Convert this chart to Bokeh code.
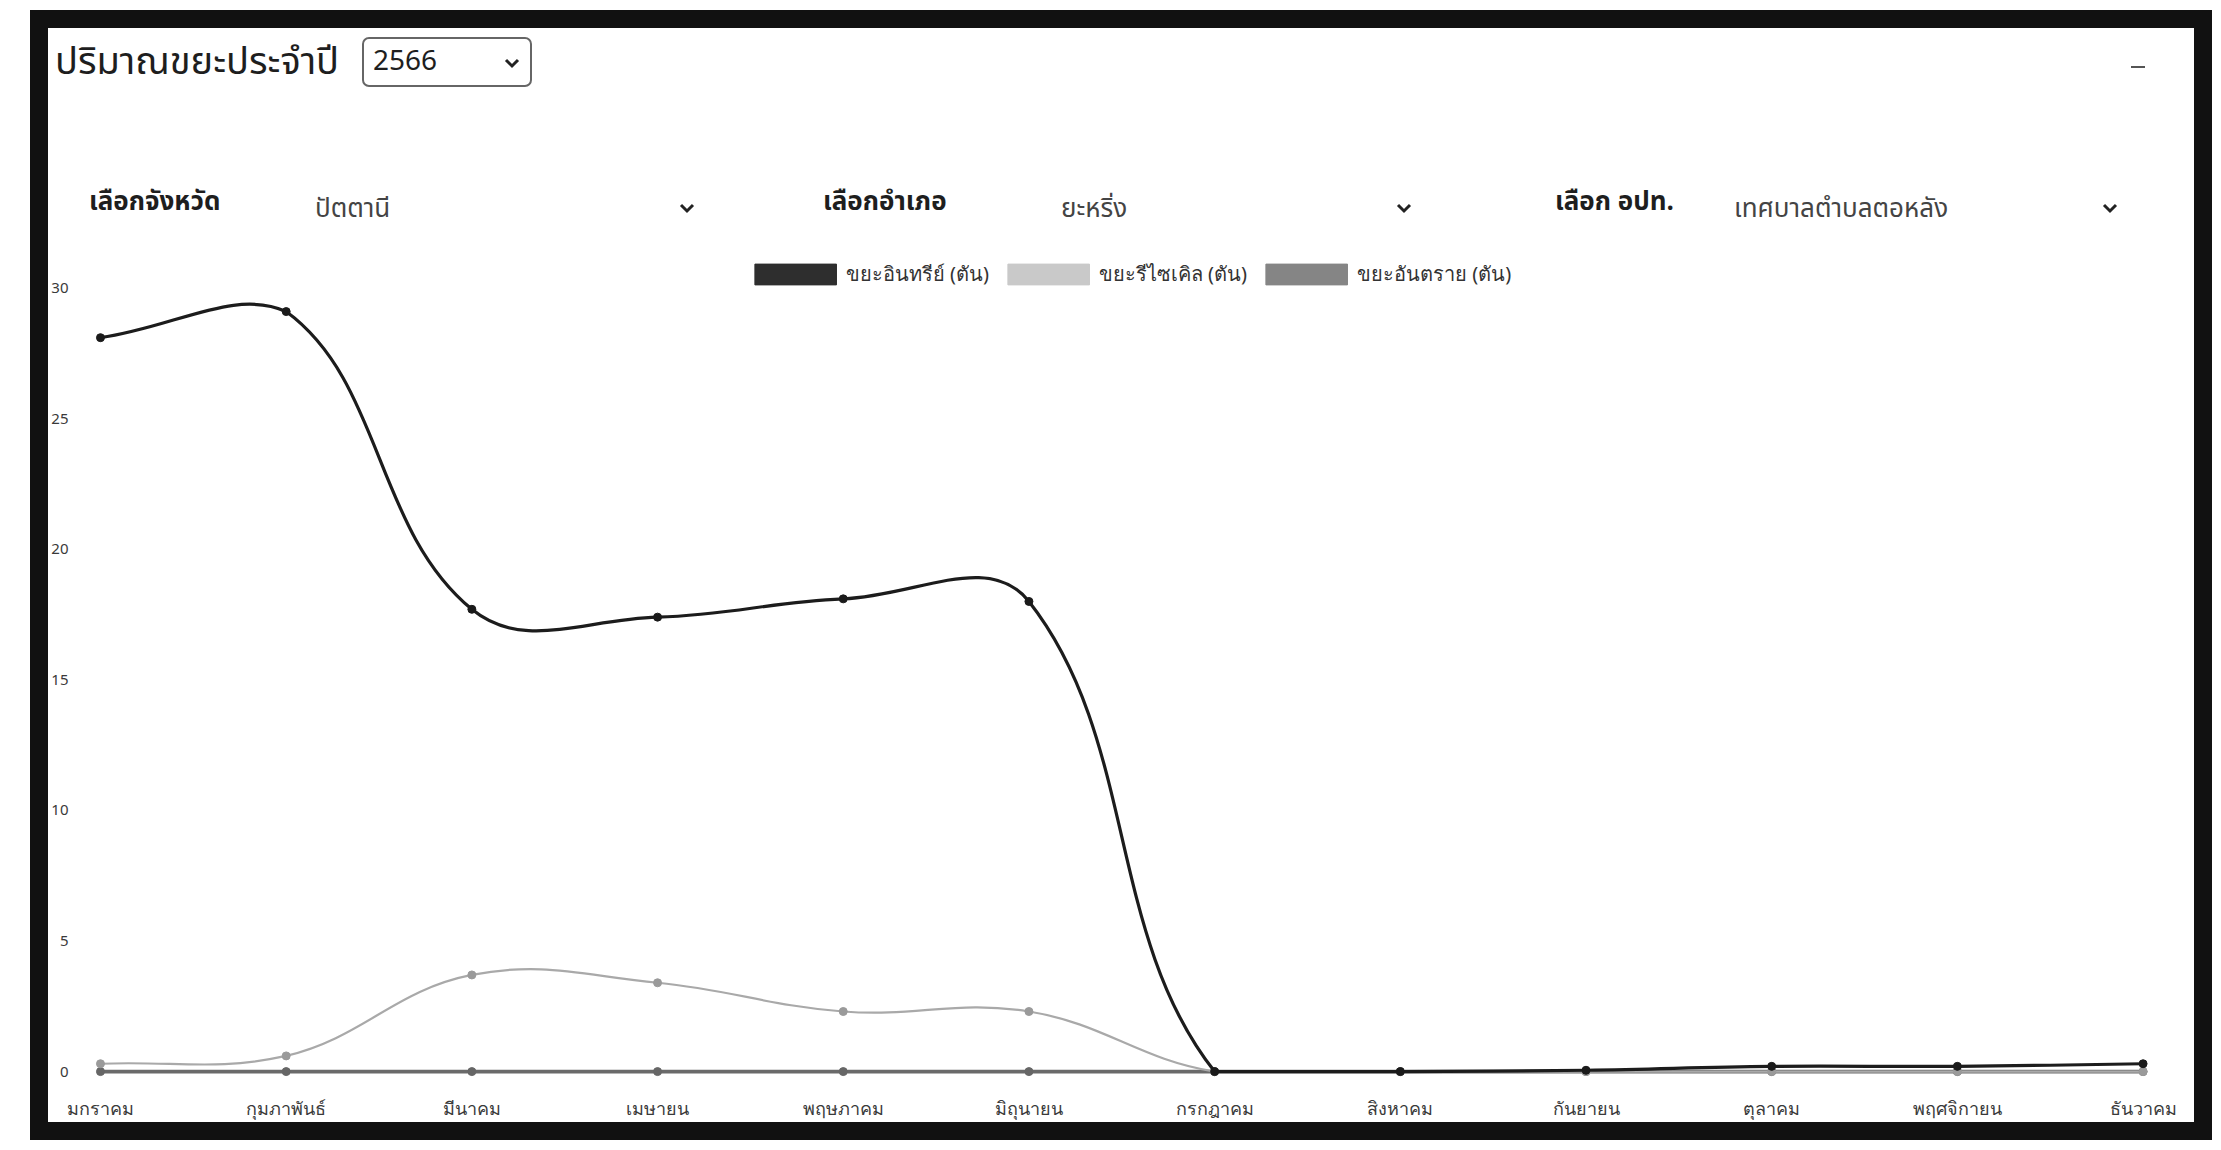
import math
from bokeh.plotting import figure
from bokeh.models import Range1d, FixedTicker, Legend, LegendItem, Div, ColumnDataSource
from bokeh.layouts import column
from bokeh.embed import file_html
from bokeh.resources import INLINE

# ---------------- data ----------------
months = ["มกราคม", "กุมภาพันธ์", "มีนาคม", "เมษายน", "พฤษภาคม", "มิถุนายน",
          "กรกฎาคม", "สิงหาคม", "กันยายน", "ตุลาคม", "พฤศจิกายน", "ธันวาคม"]
organic = [28.1, 29.1, 17.7, 17.4, 18.1, 18.0, 0.0, 0.0, 0.05, 0.2, 0.2, 0.3]
recycle = [0.3, 0.6, 3.7, 3.4, 2.3, 2.3, 0.0, 0.0, 0.0, 0.0, 0.0, 0.0]
hazard = [0.0, 0.0, 0.0, 0.0, 0.0, 0.0, 0.0, 0.0, 0.0, 0.0, 0.0, 0.0]
series_names = ["ขยะอินทรีย์ (ตัน)", "ขยะรีไซเคิล (ตัน)", "ขยะอันตราย (ตัน)"]
y_ticks = [0, 5, 10, 15, 20, 25, 30]
title_text = "ปริมาณขยะประจำปี"
year_text = "2566"
filter_labels = ["เลือกจังหวัด", "เลือกอำเภอ", "เลือก อปท."]
filter_values = ["ปัตตานี", "ยะหริ่ง", "เทศบาลตำบลตอหลัง"]

FONT = "'Noto Sans Thai', 'Noto Sans', 'Open Sans', sans-serif"

# ---------------- geometry ----------------
FIG_W, FIG_H = 2136, 872
X0, X1 = -0.113, 11.18
Y0, Y1 = -0.265, 31.17
frame_w = 2106.0
frame_h = 831.0
SX = frame_w / (X1 - X0)   # px per x unit
SY = frame_h / (Y1 - Y0)   # px per y unit


def chartjs_spline(xs, ys, t=0.4, ylo=0.0, yhi=30.0, xlo=0.0, xhi=11.0):
    """Chart.js style bezier control points (tension 0.4), computed in pixel space."""
    n = len(xs)
    px = [x * SX for x in xs]
    py = [y * SY for y in ys]
    cps = []
    for i in range(n):
        a = i - 1 if i > 0 else i
        b = i + 1 if i < n - 1 else i
        d01 = math.hypot(px[i] - px[a], py[i] - py[a])
        d12 = math.hypot(px[b] - px[i], py[b] - py[i])
        tot = d01 + d12
        s01 = d01 / tot if tot else 0.0
        s12 = d12 / tot if tot else 0.0
        fa, fb = t * s01, t * s12
        dx, dy = px[b] - px[a], py[b] - py[a]
        prev = [(px[i] - fa * dx) / SX, (py[i] - fa * dy) / SY]
        nxt = [(px[i] + fb * dx) / SX, (py[i] + fb * dy) / SY]
        for c in (prev, nxt):
            c[0] = min(max(c[0], xlo), xhi)
            c[1] = min(max(c[1], ylo), yhi)
        cps.append((prev, nxt))
    d = dict(x0=[], y0=[], x1=[], y1=[], cx0=[], cy0=[], cx1=[], cy1=[])
    for i in range(n - 1):
        d["x0"].append(xs[i]); d["y0"].append(ys[i])
        d["x1"].append(xs[i + 1]); d["y1"].append(ys[i + 1])
        d["cx0"].append(cps[i][1][0]); d["cy0"].append(cps[i][1][1])
        d["cx1"].append(cps[i + 1][0][0]); d["cy1"].append(cps[i + 1][0][1])
    return ColumnDataSource(d)


xs = list(range(len(months)))

p = figure(width=FIG_W, height=FIG_H, output_backend="svg", toolbar_location=None,
           x_range=Range1d(X0, X1), y_range=Range1d(Y0, Y1),
           min_border_left=0, min_border_right=8, min_border_top=7, min_border_bottom=34)
p.outline_line_color = None
p.grid.visible = False
p.background_fill_color = "white"
p.border_fill_color = "white"

styles = [
    # (values, line color, width, point color, legend fill)
    (hazard, "#6a6a6a", 3.6, "#666666", "#858585"),
    (recycle, "#a9a9a9", 2.2, "#9a9a9a", "#c9c9c9"),
    (organic, "#1c1c1c", 3.2, "#1a1a1a", "#2e2e2e"),
]
nan = float("nan")
legend_renderers = []
for vals, lc, lw, pc, lf in styles:
    src = chartjs_spline(xs, vals)
    p.bezier(x0="x0", y0="y0", x1="x1", y1="y1", cx0="cx0", cy0="cy0", cx1="cx1", cy1="cy1",
             source=src, line_color=lc, line_width=lw)
    p.scatter(xs, vals, size=8, fill_color=pc, line_color=pc)
    q = p.quad(left=[nan], right=[nan], top=[nan], bottom=[nan],
               fill_color=lf, line_color=lf, line_width=1)
    legend_renderers.append(q)
legend_renderers = legend_renderers[::-1]

legend = Legend(items=[LegendItem(label=series_names[i], renderers=[legend_renderers[i]], index=0)
                       for i in range(3)],
                orientation="horizontal", location="top_center",
                glyph_width=102, glyph_height=26, label_standoff=0, spacing=8,
                padding=0, margin=1, border_line_color=None, background_fill_alpha=0,
                label_text_font_size="20px", label_text_color="#333", label_text_font="Noto Sans",
                label_text_baseline="middle", label_height=26)
p.add_layout(legend)

p.yaxis.ticker = FixedTicker(ticks=y_ticks)
p.xaxis.ticker = FixedTicker(ticks=xs)
p.xaxis.major_label_overrides = {i: m for i, m in enumerate(months)}
for ax in (p.xaxis, p.yaxis):
    ax.axis_line_color = None
    ax.major_tick_line_color = None
    ax.minor_tick_line_color = None
    ax.major_label_text_color = "#3a3a3a"
    ax.major_label_text_font = "Noto Sans"
p.xaxis.major_label_text_font_size = "18px"
p.yaxis.major_label_text_font_size = "15px"
p.yaxis.major_label_standoff = 5
p.xaxis.major_label_standoff = 11

chev = ('<svg width="16" height="11" style="position:absolute;left:{x}px;top:{y}px">'
        '<polyline points="2,2 8,8 14,2" stroke="#222" stroke-width="3" fill="none"/></svg>')

header_html = f"""
<div style="position:relative;width:2136px;height:212px;font-family:{FONT};color:#1e1e1e;">
  <span style="position:absolute;left:2px;top:5px;font-size:38px;line-height:50px;">{title_text}</span>
  <div style="position:absolute;left:309px;top:4px;width:170px;height:50px;border:2px solid #666;border-radius:7px;box-sizing:border-box;">
    <span style="position:absolute;left:9px;top:4px;font-size:28px;line-height:38px;">{year_text}</span>
    {chev.format(x=140, y=19)}
  </div>
  <div style="position:absolute;left:2078px;top:33px;width:14px;height:2px;background:#555;"></div>
  <span style="position:absolute;left:36px;top:152px;font-size:26px;font-weight:bold;line-height:34px;">{filter_labels[0]}</span>
  <span style="position:absolute;left:262px;top:159px;font-size:26px;line-height:34px;color:#444;">{filter_values[0]}</span>
  {chev.format(x=626, y=170)}
  <span style="position:absolute;left:770px;top:152px;font-size:26px;font-weight:bold;line-height:34px;">{filter_labels[1]}</span>
  <span style="position:absolute;left:1008px;top:159px;font-size:26px;line-height:34px;color:#444;">{filter_values[1]}</span>
  {chev.format(x=1343, y=170)}
  <span style="position:absolute;left:1502px;top:152px;font-size:26px;font-weight:bold;line-height:34px;">{filter_labels[2]}</span>
  <span style="position:absolute;left:1681px;top:159px;font-size:26px;line-height:34px;color:#444;">{filter_values[2]}</span>
  {chev.format(x=2049, y=170)}
</div>
"""
header = Div(text=header_html, width=2136, height=212)

layout = column(header, p, styles={"border": "18px solid #111", "margin-left": "30px",
                                   "margin-top": "10px", "background": "white"})

open("out.html", "w").write(file_html(layout, INLINE))
